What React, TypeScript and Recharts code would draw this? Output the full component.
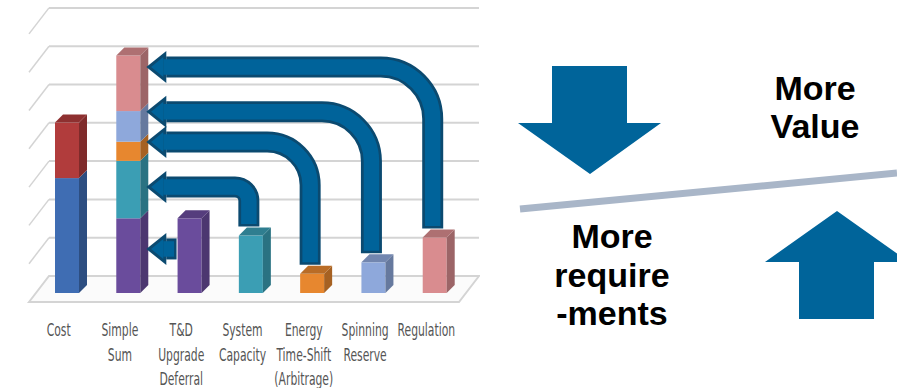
import React from 'react';
import { ComposedChart, Bar, XAxis, YAxis, CartesianGrid } from 'recharts';

// categories shown under the bars
const categories = [
  'Cost',
  'Simple\nSum',
  'T&D\nUpgrade\nDeferral',
  'System\nCapacity',
  'Energy\nTime-Shift\n(Arbitrage)',
  'Spinning\nReserve',
  'Regulation',
];

// cost bar: lower (blue) and upper (red) part
const costParts = [3.0, 1.45];
const costColors = ['#3F6DB3', '#B13C3C'];

// single services, in the order they stack inside "Simple Sum"
const serviceValues = [1.95, 1.5, 0.5, 0.8, 1.45];
const serviceColors = ['#6A4C9C', '#3B9EB4', '#E7872F', '#8EA8DB', '#D98C8F'];

// level on the Simple Sum bar where each curved arrow lands
const arrowLevels = [1.15, 2.77, 3.94, 4.73, 5.9];

// back wall grid lines
const gridValues = [0, 1, 2, 3, 4, 5, 6, 7];
const Y_MAX = 7.65;

const CHART_W = 480;
const CHART_H = 388;
const MARGIN = { top: 0, right: 15, bottom: 0, left: 36 };
const STEP = (CHART_W - MARGIN.left - MARGIN.right) / categories.length;
const DEPTH = 8;

const ARROW_FILL = '#00639A';
const ARROW_LINE = '#0B4A70';

const SUM_KEYS = serviceValues.map((_, i) => `s${i}`);
const STACK_KEYS = ['costBase', 'costTop', ...SUM_KEYS, 'single'];

const data: any[] = categories.map((name, i) => {
  if (i === 0) return { name, pos: i, costBase: costParts[0], costTop: costParts[1] };
  if (i === 1) {
    const row: any = { name, pos: i };
    serviceValues.forEach((v, k) => (row[`s${k}`] = v));
    return row;
  }
  return {
    name,
    pos: i,
    single: serviceValues[i - 2],
    arrow: arrowLevels[i - 2],
    color: serviceColors[i - 2],
  };
});

const shade = (hex: string, f: number) => {
  const n = parseInt(hex.slice(1), 16);
  const r = Math.round(((n >> 16) & 255) * f);
  const g = Math.round(((n >> 8) & 255) * f);
  const b = Math.round((n & 255) * f);
  return `rgb(${r},${g},${b})`;
};

const isTopOfStack = (payload: any, key: string) => {
  const idx = STACK_KEYS.indexOf(key);
  return STACK_KEYS.slice(idx + 1).every((k) => payload[k] === undefined);
};

const Box = ({ x, y, width, height, color, top }: any) => (
  <g>
    <rect x={x} y={y} width={width} height={height} fill={color} />
    <polygon
      points={`${x + width},${y} ${x + width + DEPTH},${y - DEPTH} ${x + width + DEPTH},${y + height - DEPTH} ${x + width},${y + height}`}
      fill={shade(color, 0.72)}
    />
    {top && (
      <polygon
        points={`${x},${y} ${x + DEPTH},${y - DEPTH} ${x + width + DEPTH},${y - DEPTH} ${x + width},${y}`}
        fill={shade(color, 0.8)}
      />
    )}
  </g>
);

const makeStackShape = (key: string, color: string) => (p: any) => {
  if (!p.height || p.height <= 0 || p.payload[key] === undefined) return <g />;
  return <Box x={p.x} y={p.y} width={p.width} height={p.height} color={color} top={isTopOfStack(p.payload, key)} />;
};

// single service bar plus its arrow into the Simple Sum bar
const ServiceShape = (p: any) => {
  const { x, y, width, height, payload } = p;
  if (!height || height <= 0 || payload.single === undefined) return <g />;
  const ppu = height / payload.single;
  const base = y + height;
  const ty = base - payload.arrow * ppu;
  const sumRight = x - (payload.pos - 1) * STEP + width;
  const tip = sumRight + 6;
  const hb = tip + 20;

  let outline = '';
  let inner = '';
  if (payload.arrow < payload.single) {
    const sx = x - 1;
    outline = `M ${sx} ${ty} L ${hb} ${ty}`;
    inner = `M ${sx - 2.5} ${ty} L ${hb - 3} ${ty}`;
  } else {
    const cx = x + 10;
    const bottom = y - 9;
    const r = Math.min(52, 0.35 * (bottom - ty));
    const curve = `L ${cx} ${ty + r} A ${r} ${r} 0 0 0 ${cx - r} ${ty}`;
    outline = `M ${cx} ${bottom} ${curve} L ${hb} ${ty}`;
    inner = `M ${cx} ${bottom - 2.5} ${curve} L ${hb - 3} ${ty}`;
  }

  return (
    <g>
      <Box x={x} y={y} width={width} height={height} color={payload.color} top />
      <path d={outline} stroke={ARROW_LINE} strokeWidth={21} fill="none" />
      <polygon points={`${hb},${ty - 16} ${tip},${ty} ${hb},${ty + 16}`} fill={ARROW_LINE} />
      <path d={inner} stroke={ARROW_FILL} strokeWidth={15.5} fill="none" />
      <polygon points={`${hb - 3},${ty - 10} ${tip + 4.8},${ty} ${hb - 3},${ty + 10}`} fill={ARROW_FILL} />
    </g>
  );
};

// grid line positions taken from the y scale
const gridCoords = ({ yAxis, offset }: any) =>
  gridValues.map((v) =>
    yAxis && typeof yAxis.scale === 'function'
      ? yAxis.scale(v)
      : offset.top + offset.height * (1 - v / Y_MAX)
  );

// back wall line with the side wall diagonal; the lowest line draws the floor
const WallLine = (p: any) => {
  const { x1, y1, x2 } = p;
  const col = '#D4D4D4';
  const bottom = MARGIN.top + (CHART_H - 95);
  if (Math.abs(y1 - bottom) < 1) {
    return (
      <polygon
        key={p.key}
        points={`${x1 - 7},${y1 + 9} ${x1 + 13},${y1 - 17} ${x2 + 14},${y1 - 17} ${x2 - 6},${y1 + 9}`}
        fill="#FBFBFB"
        stroke={col}
        strokeWidth={2}
      />
    );
  }
  return (
    <g key={p.key}>
      <line x1={x1 + 13} y1={y1 - 17} x2={x2 + 14} y2={y1 - 17} stroke={col} strokeWidth={2} />
      <line x1={x1 - 7} y1={y1 + 9} x2={x1 + 13} y2={y1 - 17} stroke={col} strokeWidth={1.5} />
    </g>
  );
};

const CategoryTick = (p: any) => {
  const lines = String(p.payload.value).split('\n');
  return (
    <g transform={`translate(${p.x - 8},${p.y + 43}) scale(1,1.45)`}>
      <text
        textAnchor="middle"
        fontSize={12}
        fill="#555"
        fontFamily="'Liberation Sans Narrow', 'DejaVu Sans Condensed', sans-serif"
      >
        {lines.map((l, i) => (
          <tspan key={i} x={0} dy={i === 0 ? 0 : 17}>
            {l}
          </tspan>
        ))}
      </text>
    </g>
  );
};

const RightSide = () => (
  <svg width={897} height={388} style={{ position: 'absolute', left: 0, top: 0, pointerEvents: 'none' }}>
    <polygon points="552,66 627,66 627,123 661,123 590,174 518,123 552,123" fill="#00649A" />
    <line x1={520} y1={209} x2={897} y2={173} stroke="#A9B6C8" strokeWidth={7} />
    <polygon points="837,211 909,262 874,262 874,319 799,319 799,262 765,262" fill="#00649A" />
    <g fontFamily="'Liberation Sans', Arial, sans-serif" fontWeight="bold" fontSize={34} textAnchor="middle" fill="#000">
      <text x={815} y={100}>More</text>
      <text x={815} y={138}>Value</text>
      <text x={612} y={248}>More</text>
      <text x={612} y={287}>require</text>
      <text x={612} y={325}>-ments</text>
    </g>
  </svg>
);

export default function App() {
  return (
    <div style={{ position: 'relative', width: 897, height: 388, background: '#fff', overflow: 'hidden' }}>
      <style>{'body{margin:0}'}</style>
      <ComposedChart width={CHART_W} height={CHART_H} data={data} margin={MARGIN} barSize={24}>
        <CartesianGrid
          vertical={false}
          horizontal={(gp: any) => <WallLine {...gp} />}
          horizontalCoordinatesGenerator={gridCoords}
        />
        <XAxis
          dataKey="name"
          interval={0}
          height={95}
          tickLine={false}
          axisLine={false}
          tickSize={0}
          tickMargin={0}
          tick={<CategoryTick />}
        />
        <YAxis hide domain={[0, Y_MAX]} allowDataOverflow />
        <Bar dataKey="costBase" stackId="a" isAnimationActive={false} shape={makeStackShape('costBase', costColors[0])} />
        <Bar dataKey="costTop" stackId="a" isAnimationActive={false} shape={makeStackShape('costTop', costColors[1])} />
        {SUM_KEYS.map((k, i) => (
          <Bar key={k} dataKey={k} stackId="a" isAnimationActive={false} shape={makeStackShape(k, serviceColors[i])} />
        ))}
        <Bar dataKey="single" stackId="a" isAnimationActive={false} shape={ServiceShape} />
      </ComposedChart>
      <RightSide />
    </div>
  );
}
